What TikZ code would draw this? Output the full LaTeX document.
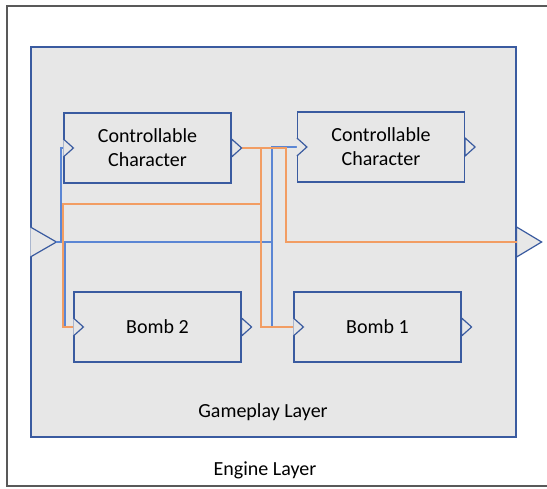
\documentclass[tikz,border=0pt]{standalone}
\usepackage{fontspec}
\setmainfont{Carlito}
\usetikzlibrary{calc}
\definecolor{boxblue}{HTML}{3A5BA0}
\definecolor{wireblue}{HTML}{5B86D4}
\definecolor{wireorange}{HTML}{F29D63}
\definecolor{layergrey}{HTML}{E7E7E7}
\definecolor{framegrey}{HTML}{595959}
\tikzset{
  txt/.style = {font=\fontsize{20}{24}\selectfont, align=center, inner sep=0pt},
  layer/.style = {draw=boxblue, fill=layergrey, line width=1.2pt, inner sep=0pt},
  block/.style = {txt, draw=boxblue, line width=1.2pt, minimum width=167pt, minimum height=70pt},
  port/.style = {draw=boxblue, fill=layergrey, line width=1.2pt},
  bwire/.style = {draw=wireblue, line width=1.6pt},
  owire/.style = {draw=wireorange, line width=1.6pt}
}
\newcommand{\portin}[1]{\draw[port] (#1.west) ++(0,-9) -- ++(10,9) -- ++(-10,9);}
\newcommand{\portout}[1]{\draw[port] (#1.east) ++(0,-9) -- ++(10,9) -- ++(-10,9) -- cycle;}

\begin{document}
\begin{tikzpicture}[x=1pt,y=-1pt]
	\useasboundingbox (0,0) rectangle (547,489);
	% engine layer frame
	\draw[framegrey, line width=1.3pt] (560,6) -- (7,6) -- (7,486) -- (560,486);
	\node[txt] (engine) at (265,470) {Engine Layer};
	% gameplay layer
	\node[layer, minimum width=485pt, minimum height=390pt] (game) at (273.5,242) {};
	\node[txt] (gametxt) at (263,412) {Gameplay Layer};
	\draw[port] (game.west) ++(0,-15) -- ++(26,15) coordinate (in) -- ++(-26,15);
	\draw[port] (game.east) ++(0,-15) -- ++(25,15) -- ++(-25,15) -- cycle;
	% blocks
	\node[block] (cc1) at (147.5,148) {Controllable\\Character};
	\node[block] (cc2) at (381,147) {Controllable\\Character};
	\node[block] (bomb2) at (157.5,327) {Bomb 2};
	\node[block] (bomb1) at (377.5,327) {Bomb 1};
	% wires
	\coordinate (cc1out) at ($(cc1.east)+(10,0)$);
	\draw[bwire] (in) -| (61,148) -- (cc1.west);
	\draw[bwire] (65,242) -- (65,327) -- (bomb2.west);
	\draw[bwire] (in) -| (272,147) -- (cc2.west);
	\draw[bwire] (272,242) -- (272,327) -- (bomb1.west);
	\draw[owire] (cc1out) -| (286,242) -- (game.east);
	\draw[owire] (261,148) -- (261,327) -- (bomb1.west);
	\draw[owire] (261,204) -| (63,327) -- (bomb2.west);
	% ports
	\foreach \b in {cc1,cc2,bomb2,bomb1} {
		\portin{\b}
		\portout{\b}
	}
\end{tikzpicture}
\end{document}
